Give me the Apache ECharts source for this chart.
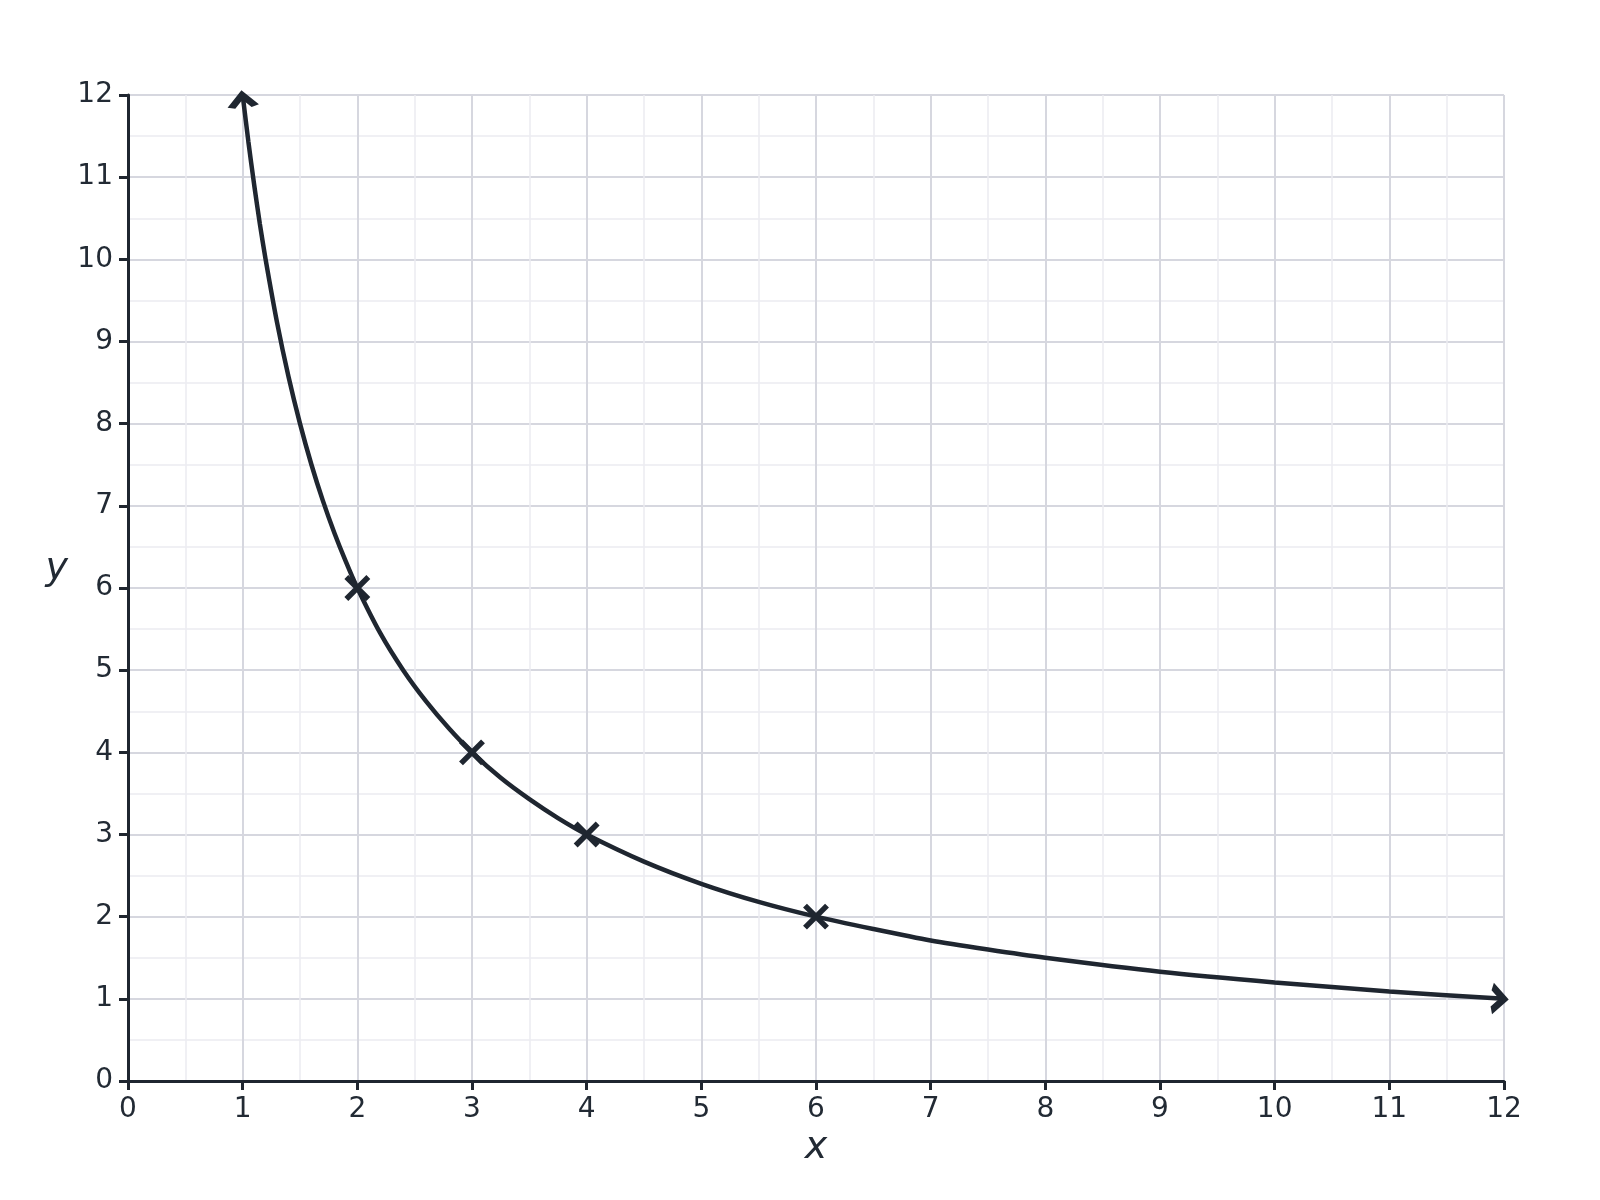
<!DOCTYPE html>
<html>
<head>
<meta charset="utf-8">
<script src="https://cdn.jsdelivr.net/npm/echarts@6/dist/echarts.min.js"></script>
<style>
html,body{margin:0;padding:0;background:#fff;}
#chart{width:1600px;height:1200px;}
</style>
</head>
<body>
<div id="chart"></div>
<script>
// Curve points
const curveX = [1, 1.05, 1.1, 1.15, 1.2, 1.3, 1.4, 1.5, 1.6, 1.7, 1.8, 1.9, 2, 2.2, 2.4, 2.6, 2.8, 3, 3.25, 3.5, 3.75, 4, 4.5, 5, 5.5, 6, 6.5, 7, 7.5, 8, 9, 10, 11, 12];
const curveY = [12, 11.43, 10.91, 10.43, 10, 9.23, 8.57, 8, 7.5, 7.06, 6.67, 6.32, 6, 5.45, 5, 4.62, 4.29, 4, 3.69, 3.43, 3.2, 3, 2.67, 2.4, 2.18, 2, 1.85, 1.71, 1.6, 1.5, 1.33, 1.2, 1.09, 1];
// Marked points (crosses)
const markX = [2, 3, 4, 6];
const markY = [6, 4, 3, 2];
// Arrow ends of the curve
const arrowStart = [1, 12];
const arrowEnd = [12, 1];
// Axis ranges
const xRange = [0, 12];
const yRange = [0, 12];
const xName = 'x';
const yName = 'y';

const ink = '#1f2630';
const textColor = '#222a34';

const chart = echarts.init(document.getElementById('chart'));

const axisCommon = {
  type: 'value',
  interval: 1,
  axisLine: {show: true, onZero: false, lineStyle: {color: ink, width: 3}},
  axisTick: {show: true, length: 9, lineStyle: {color: ink, width: 3}},
  axisLabel: {color: textColor, fontSize: 28, fontFamily: 'DejaVu Sans', margin: 15},
  splitLine: {show: true, lineStyle: {color: '#d6d7df', width: 2}},
  minorTick: {show: false, splitNumber: 2},
  minorSplitLine: {show: true, lineStyle: {color: '#ececf1', width: 1.5}}
};

const crossPath = 'path://M0,0 L10,10 M10,0 L0,10';
const chevronUp = 'path://M0,10 L10,0 L20,10';
const chevronRight = 'path://M0,0 L10,10 L0,20';

chart.setOption({
  animation: false,
  backgroundColor: '#ffffff',
  grid: {left: 128, right: 96, top: 95, bottom: 119, containLabel: false},
  xAxis: Object.assign({}, axisCommon, {
    min: xRange[0], max: xRange[1],
    name: xName, nameLocation: 'middle', nameGap: 48,
    nameTextStyle: {color: textColor, fontSize: 38, fontStyle: 'italic', fontFamily: 'DejaVu Sans'}
  }),
  yAxis: Object.assign({}, axisCommon, {
    min: yRange[0], max: yRange[1],
    name: yName, nameLocation: 'middle', nameGap: 60, nameRotate: 0,
    nameTextStyle: {color: textColor, fontSize: 38, fontStyle: 'italic', fontFamily: 'DejaVu Sans', verticalAlign: 'bottom'}
  }),
  series: [
    {
      type: 'line',
      data: curveX.map((x, i) => [x, curveY[i]]),
      smooth: 0.25,
      showSymbol: false,
      symbol: 'none',
      lineStyle: {color: ink, width: 4.5},
      z: 3
    },
    {
      type: 'scatter',
      data: markX.map((x, i) => [x, markY[i]]),
      symbol: crossPath,
      symbolSize: 22,
      itemStyle: {color: 'none', borderColor: ink, borderWidth: 5.5, opacity: 1},
      z: 4
    },
    {
      type: 'scatter',
      data: [arrowStart],
      symbol: chevronUp,
      symbolSize: [24, 12],
      symbolOffset: [0, '50%'],
      symbolRotate: 6.6,
      itemStyle: {color: 'none', borderColor: ink, borderWidth: 6, opacity: 1},
      z: 4
    },
    {
      type: 'scatter',
      data: [arrowEnd],
      symbol: chevronRight,
      symbolSize: [12, 24],
      symbolOffset: ['-50%', 0],
      symbolRotate: -3.4,
      itemStyle: {color: 'none', borderColor: ink, borderWidth: 6, opacity: 1},
      z: 4
    }
  ]
});
</script>
</body>
</html>
